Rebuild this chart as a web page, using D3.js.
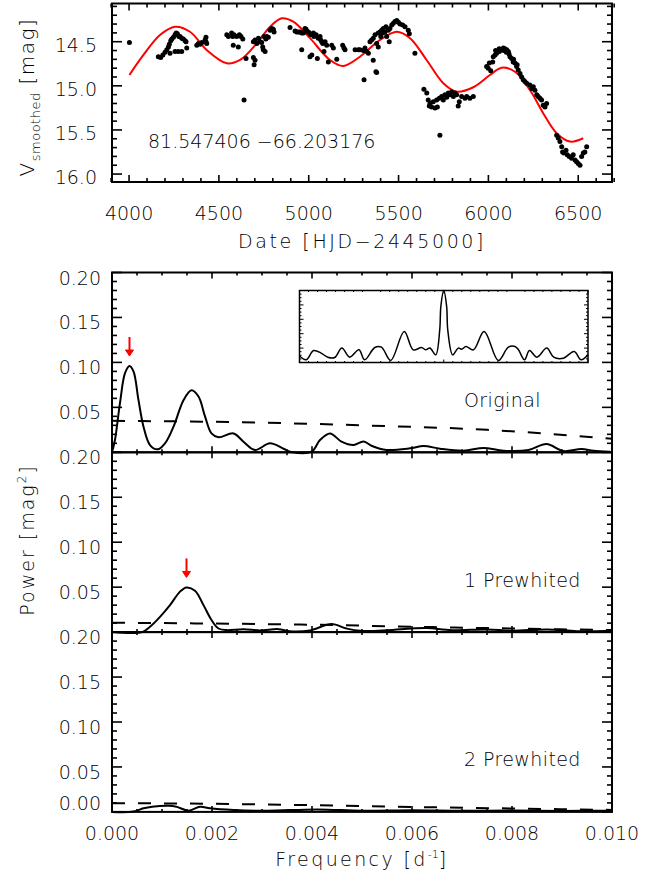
<!DOCTYPE html>
<html><head><meta charset="utf-8">
<script src="https://cdn.jsdelivr.net/npm/d3@7"></script>
<style>
body{margin:0;background:#fff;}
svg{display:block;background:#fff;}
text{font-family:"DejaVu Sans",sans-serif;font-weight:200;fill:#000;}
</style></head><body>
<svg id="c" width="648" height="888"></svg>
<script>
// ---------- data ----------
const obsPoints = [
[4002,14.51],
[4163,14.67],[4176,14.68],[4188,14.65],[4200,14.62],[4210,14.59],[4219,14.56],[4224,14.53],[4232,14.49],[4238,14.47],[4247,14.45],[4256,14.42],[4262,14.40],[4269,14.41],[4277,14.44],[4284,14.44],[4293,14.46],[4302,14.47],[4312,14.49],[4317,14.50],[4228,14.63],[4256,14.61],[4274,14.61],[4293,14.61],[4321,14.57],
[4377,14.54],[4386,14.52],[4395,14.53],[4405,14.51],[4423,14.48],[4428,14.45],[4428,14.50],[4432,14.52],
[4544,14.42],[4553,14.44],[4571,14.40],[4577,14.44],[4580,14.54],[4584,14.42],[4599,14.44],[4608,14.56],[4614,14.42],[4623,14.44],[4633,14.47],[4651,14.69],[4640,15.16],[4692,14.68],[4696,14.76],[4701,14.71],
[4692,14.50],[4701,14.48],[4711,14.52],[4720,14.46],[4729,14.50],[4738,14.51],[4744,14.56],[4747,14.59],[4757,14.61],[4751,14.44],[4761,14.47],[4766,14.44],[4775,14.45],[4785,14.37],[4794,14.35],[4803,14.36],[4807,14.39],
[4896,14.34],[4924,14.38],[4933,14.39],[4942,14.39],[4951,14.39],[4961,14.40],[4970,14.40],[4961,14.59],[4979,14.35],[4985,14.36],[4989,14.38],[4998,14.39],[5003,14.40],[5007,14.67],[5011,14.42],[5017,14.65],[5026,14.40],[5029,14.44],[5041,14.42],[5048,14.69],[5053,14.46],[5063,14.44],[5067,14.48],[5072,14.50],[5078,14.52],[5085,14.61],[5091,14.50],[5100,14.54],[5109,14.73],[5128,14.54],[5137,14.57],[5156,14.70],[5189,14.54],[5196,14.57],[5202,14.59],[5258,14.59],[5276,14.59],[5304,14.60],[5323,14.61],[5332,14.63],[5308,14.93],[5378,14.85],
[5285,14.59],[5313,14.57],[5341,14.50],[5350,14.48],[5359,14.46],[5359,14.71],[5369,14.42],[5374,14.84],[5378,14.52],[5387,14.40],[5387,14.56],[5397,14.39],[5401,14.44],[5406,14.37],[5412,14.40],[5415,14.35],[5424,14.39],[5430,14.33],[5434,14.44],[5443,14.37],[5448,14.50],[5452,14.35],[5462,14.31],[5471,14.29],[5480,14.27],[5490,14.26],[5499,14.28],[5508,14.30],[5523,14.31],[5536,14.33],[5554,14.37],[5560,14.41],[5591,14.63],
[5641,15.04],[5657,15.08],[5665,15.16],[5675,15.20],[5684,15.24],[5671,15.23],[5693,15.18],[5703,15.25],[5712,15.16],[5716,15.24],[5727,15.14],[5730,15.56],[5740,15.12],[5749,15.16],[5758,15.10],[5768,15.13],[5777,15.08],[5786,15.10],[5796,15.07],[5805,15.12],[5814,15.08],[5823,15.10],[5832,15.23],[5838,15.18],[5851,15.12],[5870,15.14],[5879,15.12],[5897,15.14],[5916,15.12],
[5990,14.78],[5999,14.80],[6005,14.74],[6013,14.83],[6024,14.73],[6027,14.67],[6037,14.65],[6046,14.63],[6061,14.61],[6074,14.59],[6083,14.57],[6092,14.58],[6102,14.59],[6111,14.61],[6120,14.67],[6129,14.69],[6138,14.73],[6148,14.74],[6157,14.78],[6166,14.82],[6176,14.86],[6185,14.90],[6194,14.93],[6203,14.95],[6213,14.97],[6231,14.99],[6241,15.03],[6250,15.01],[6259,15.05],[6269,15.10],[6277,15.12],[6287,15.14],[6296,15.16],[6305,15.22],[6315,15.24],[6324,15.20],
[6040,14.60],[6060,14.58],[6085,14.60],[6100,14.62],[6115,14.64],[6140,14.70],[6160,14.76],
[6380,15.56],[6389,15.59],[6398,15.63],[6408,15.69],[6413,15.75],[6420,15.76],[6432,15.73],[6439,15.78],[6450,15.80],[6463,15.82],[6472,15.78],[6482,15.84],[6491,15.86],[6500,15.88],[6510,15.90],[6519,15.80],[6528,15.76],[6537,15.75],[6547,15.69]
];
const fitCurve = [
[4002,14.877],[4080,14.65],[4172,14.424],[4256,14.33],[4339,14.387],[4432,14.594],[4544,14.745],[4618,14.707],[4711,14.518],[4785,14.33],[4850,14.235],[4914,14.273],[5007,14.46],[5118,14.707],[5192,14.775],[5285,14.67],[5397,14.48],[5490,14.387],[5564,14.46],[5656,14.707],[5749,14.97],[5823,15.066],[5916,15.016],[6009,14.877],[6074,14.794],[6148,14.84],[6231,15.047],[6305,15.31],[6380,15.537],[6454,15.632],[6528,15.594]
];
const coordLabel = "81.547406 \u221266.203176";
const dateTicks = [4000,4500,5000,5500,6000,6500];
const magTicks = [14.5,15.0,15.5,16.0];
const freqTicks = [0,0.002,0.004,0.006,0.008,0.010];
const powerTicks = [0,0.05,0.10,0.15,0.20];

const powerOriginal = [[0,0],[0.00006,0.014],[0.00016,0.055],[0.00026,0.088],[0.00035,0.096],[0.00043,0.090],[0.00053,0.058],[0.00063,0.0285],[0.00076,0.008],[0.00091,0.0033],[0.00106,0.010],[0.00123,0.0285],[0.00143,0.058],[0.00159,0.069],[0.00173,0.062],[0.00186,0.040],[0.00199,0.021],[0.00213,0.0167],[0.00243,0.021],[0.00263,0.0118],[0.00286,0.0026],[0.00316,0.010],[0.00343,0.004],[0.00359,0.0003],[0.00399,0.0007],[0.00416,0.0137],[0.00436,0.021],[0.00459,0.0118],[0.00483,0.008],[0.00503,0.012],[0.0052,0.007],[0.00549,0.0026],[0.00596,0.0044],[0.00623,0.007],[0.00656,0.004],[0.00703,0.0018],[0.00743,0.0048],[0.00783,0.0018],[0.00833,0.0026],[0.00869,0.0092],[0.00903,0.0014],[0.00939,0.0037],[0.00963,0.0018],[0.00996,0.0007]];
const powerPrew1 = [[0,0],[0.0006,0],[0.00076,0.006],[0.00096,0.017],[0.00116,0.030],[0.00136,0.045],[0.00149,0.0497],[0.00166,0.046],[0.00183,0.030],[0.00199,0.0134],[0.00213,0.004],[0.00229,0.0022],[0.00263,0.0033],[0.00296,0.0019],[0.00333,0.0033],[0.00356,0.001],[0.00396,0.0019],[0.00439,0.0089],[0.00469,0.004],[0.00496,0.0014],[0.0055,0.002],[0.006,0.004],[0.0063,0.0045],[0.0068,0.002],[0.0075,0.003],[0.008,0.0015],[0.0087,0.003],[0.0093,0.001],[0.01,0.0015]];
const powerPrew2 = [[0,0],[0.00043,0.0004],[0.00063,0.004],[0.0008,0.0058],[0.00113,0.0069],[0.00129,0.0058],[0.00153,0.0013],[0.00176,0.0058],[0.00196,0.004],[0.00243,0.0021],[0.0031,0.0013],[0.0041,0.0028],[0.005,0.0013],[0.006,0.0018],[0.007,0.0012],[0.008,0.0016],[0.009,0.0011],[0.01,0.0014]];
const noiseOriginal = [[0,0.035],[0.0025,0.0335],[0.005,0.030],[0.0075,0.025],[0.01,0.015]];
const noisePrew1 = [[0,0.0105],[0.002,0.0095],[0.004,0.0082],[0.006,0.006],[0.008,0.004],[0.01,0.0022]];
const noisePrew2 = [[0,0.0097],[0.002,0.009],[0.004,0.0075],[0.006,0.0055],[0.008,0.0038],[0.01,0.0022]];
const panelNames = ["Original","1 Prewhited","2 Prewhited"];
const arrowFreq = [0.00035, 0.00149];
const arrowPeak = [0.096, 0.0497];

const windowFreq = [-0.0100,-0.00954,-0.00902,-0.0085,-0.00804,-0.00756,-0.00706,-0.00652,-0.00588,-0.00548,-0.00478,-0.00432,-0.00368,-0.00274,-0.00212,-0.00154,-0.00124,-0.00096,-0.00056,-0.00028,-0.0002,0,0.0002,0.00028,0.00062,0.001,0.00124,0.00154,0.00206,0.0028,0.00378,0.00448,0.00494,0.00518,0.0056,0.00594,0.00646,0.00714,0.00762,0.0083,0.00904,0.00952,0.01];
const windowPower = [0.093,0.037,0.167,0.13,0.074,0.069,0.2,0.074,0.176,0.037,0.208,0.213,0.028,0.43,0.176,0.208,0.176,0.2,0.106,0.45,0.78,1.0,0.78,0.45,0.106,0.2,0.185,0.222,0.176,0.43,0.028,0.213,0.222,0.176,0.037,0.167,0.074,0.2,0.074,0.06,0.153,0.037,0.106];

// ---------- drawing ----------
const svg = d3.select("#c");
svg.append("rect").attr("width",648).attr("height",888).attr("fill","#fff");
const FS = 19;

// ticks drawn inward from each side of the box, positioned by the scales
function tickSet(g, scale, vals, len, side, edge, sw){
  const horiz = (side==="bottom"||side==="top");
  const dir = (side==="bottom"||side==="right") ? -1 : 1;
  g.append("g").selectAll("line").data(vals).join("line")
    .attr("x1", d=> horiz ? scale(d) : edge)
    .attr("x2", d=> horiz ? scale(d) : edge + dir*len)
    .attr("y1", d=> horiz ? edge : scale(d))
    .attr("y2", d=> horiz ? edge + dir*len : scale(d))
    .attr("stroke","#000").attr("stroke-width",sw);
}
function frame(g, x, y, xMaj, xMin, xl, xs, yMaj, yMin, yl, ys, sw, bw){
  const [x0,x1]=x.range(), [y0,y1]=y.range();
  const top=Math.min(y0,y1), bot=Math.max(y0,y1);
  tickSet(g,x,xMaj,xl,"bottom",bot,sw); tickSet(g,x,xMin,xs,"bottom",bot,sw);
  tickSet(g,x,xMaj,xl,"top",top,sw);    tickSet(g,x,xMin,xs,"top",top,sw);
  tickSet(g,y,yMaj,yl,"left",x0,sw);    tickSet(g,y,yMin,ys,"left",x0,sw);
  tickSet(g,y,yMaj,yl,"right",x1,sw);   tickSet(g,y,yMin,ys,"right",x1,sw);
  g.append("rect").attr("x",x0).attr("y",top).attr("width",x1-x0).attr("height",bot-top)
   .attr("fill","none").attr("stroke","#000").attr("stroke-width",bw);
}

// ----- top light curve panel -----
const tx = d3.scaleLinear().domain([3905,6688]).range([112,612]);
const ty = d3.scaleLinear().domain([14.067,16.09]).range([3.5,182]);
const gTop = svg.append("g");
gTop.append("path").datum(fitCurve)
  .attr("d", d3.line().x(d=>tx(d[0])).y(d=>ty(d[1])).curve(d3.curveCatmullRom.alpha(0.5)))
  .attr("fill","none").attr("stroke","#ff0000").attr("stroke-width",2);
gTop.selectAll("circle").data(obsPoints).join("circle")
  .attr("cx",d=>tx(d[0])).attr("cy",d=>ty(d[1])).attr("r",2.5).attr("fill","#000");
const dateMinor = d3.range(3900,6701,100).filter(v=>v%500);
const magMinor = d3.range(141,161,1).filter(v=>v%5).map(v=>v/10);
frame(gTop, tx, ty, dateTicks, dateMinor, 7, 4, magTicks, magMinor, 10, 5, 1.6, 2);
gTop.selectAll(".xl").data(dateTicks).join("text").attr("class","xl")
  .attr("x",d=>tx(d)).attr("y",220).attr("text-anchor","middle").attr("font-size",FS).text(d=>d);
gTop.selectAll(".yl").data(magTicks).join("text").attr("class","yl")
  .attr("x",97).attr("y",d=>ty(d)+10).attr("text-anchor","end").attr("font-size",FS).text(d=>d.toFixed(1));
gTop.append("text").attr("x",148).attr("y",148).attr("font-size",FS).text(coordLabel);
svg.append("text").attr("x",362).attr("y",248).attr("text-anchor","middle").attr("font-size",FS)
  .attr("letter-spacing",2.6).text("Date [HJD\u22122445000]");
const vt = svg.append("text").attr("transform","translate(34,97) rotate(-90)").attr("text-anchor","middle")
  .attr("font-size",20).attr("letter-spacing",1.5);
vt.append("tspan").text("V");
vt.append("tspan").attr("font-size",13).attr("letter-spacing",0.5).attr("dy",6).text("smoothed");
vt.append("tspan").attr("dy",-6).text(" [mag]");

// ----- periodogram panels -----
const fx = d3.scaleLinear().domain([0,0.01]).range([112,612]);
const pTop = [272.5, 452.3, 632.1], pH = 179.8;
const powers = [powerOriginal, powerPrew1, powerPrew2];
const noises = [noiseOriginal, noisePrew1, noisePrew2];
const freqMinor = d3.range(0,21,1).filter(v=>v%4).map(v=>v*0.0005);
const powerMinor = d3.range(0,21,1).filter(v=>v%5).map(v=>v*0.01);
pTop.forEach((t,i)=>{
  const py = d3.scaleLinear().domain([0,0.2]).range([t+pH,t]);
  const g = svg.append("g");
  g.append("path").datum(noises[i])
    .attr("d", d3.line().x(d=>fx(d[0])).y(d=>py(d[1])).curve(d3.curveMonotoneX))
    .attr("fill","none").attr("stroke","#000").attr("stroke-width",2).attr("stroke-dasharray","13,13");
  g.append("path").datum(powers[i])
    .attr("d", d3.line().x(d=>fx(d[0])).y(d=>py(d[1])).curve(d3.curveCatmullRom.alpha(0.5)))
    .attr("fill","none").attr("stroke","#000").attr("stroke-width",2);
  frame(g, fx, py, freqTicks, freqMinor, 6, 3, powerTicks, powerMinor, 10, 5, 1.6, 2);
  const labs = i===2 ? powerTicks : powerTicks.filter(v=>v>0);
  g.selectAll(".yl").data(labs).join("text").attr("class","yl")
    .attr("x",101).attr("y",d=>py(d)+12 + (d===0?-14:0)).attr("text-anchor","end").attr("font-size",FS)
    .text(d=>d.toFixed(2));
  g.append("text").attr("x",464).attr("y",t+pH-45.5).attr("font-size",FS).attr("letter-spacing",0.4).text(panelNames[i]);
  if (i<2){
    const ax = fx(arrowFreq[i]), ay = py(arrowPeak[i]);
    g.append("line").attr("x1",ax).attr("x2",ax).attr("y1",ay-29).attr("y2",ay-14)
      .attr("stroke","#ff0000").attr("stroke-width",2);
    g.append("path").attr("d",`M${ax-4},${ay-16}L${ax+4},${ay-16}L${ax},${ay-10}Z`).attr("fill","#ff0000")
      .attr("stroke","#ff0000").attr("stroke-width",1);
  }
  if (i===0){
    const ix = d3.scaleLinear().domain([-0.01,0.01]).range([299.5,588]);
    const iy = d3.scaleLinear().domain([0,1]).range([362.5,290.5]);
    const wg = svg.append("g");
    const wdata = windowFreq.map((f,k)=>[f, windowPower[k]]);
    wg.append("path").datum(wdata)
      .attr("d", d3.line().x(d=>ix(d[0])).y(d=>iy(d[1])).curve(d3.curveCatmullRom.alpha(0.5)))
      .attr("fill","none").attr("stroke","#000").attr("stroke-width",1.5);
    frame(wg, ix, iy, d3.range(-4,5,4).map(v=>v*0.0025), d3.range(-16,17,1).filter(v=>v%8).map(v=>v*0.000625), 3, 1.5,
          d3.range(0,6,1).map(v=>v*0.2), d3.range(0,21,1).filter(v=>v%4).map(v=>v*0.05), 4, 2, 1, 1.5);
  }
});
svg.selectAll(".fl").data(freqTicks).join("text").attr("class","fl")
  .attr("x",d=>fx(d)).attr("y",840).attr("text-anchor","middle").attr("font-size",FS).text(d=>d.toFixed(3));
const ft = svg.append("text").attr("x",362).attr("y",866).attr("text-anchor","middle").attr("font-size",FS).attr("letter-spacing",2.4);
ft.append("tspan").text("Frequency [d");
ft.append("tspan").attr("font-size",11).attr("letter-spacing",0).attr("dy",-8).text("-1");
ft.append("tspan").attr("dy",8).text("]");
const pt = svg.append("text").attr("transform","translate(34,540) rotate(-90)").attr("text-anchor","middle").attr("font-size",FS).attr("letter-spacing",2);
pt.append("tspan").text("Power [mag");
pt.append("tspan").attr("font-size",12).attr("dy",-8).text("2");
pt.append("tspan").attr("dy",8).text("]");
</script>
</body></html>
